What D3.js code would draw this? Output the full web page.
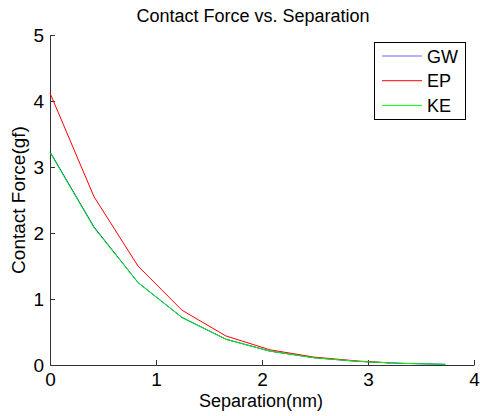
<!DOCTYPE html>
<html><head><meta charset="utf-8">
<script src="https://cdn.jsdelivr.net/npm/d3@7"></script>
<style>body{margin:0;background:#fff;} svg{display:block;font-family:"Liberation Sans",Arial,sans-serif;}</style>
</head><body>
<svg id="c" width="480" height="416"></svg>
<script>
const title = "Contact Force vs. Separation";
const xLabel = "Separation(nm)";
const yLabel = "Contact Force(gf)";
const xTicks = [0, 1, 2, 3, 4];
const yTicks = [0, 1, 2, 3, 4, 5];
const seriesNames = ["GW", "EP", "KE"];
const seriesColors = ["#0000ff", "#ff0000", "#00ff00"];
const gwX = [0, 0.415, 0.83, 1.245, 1.66, 2.075, 2.49, 2.905, 3.32, 3.73];
const gwY = [3.23, 2.09, 1.25, 0.72, 0.39, 0.21, 0.11, 0.055, 0.025, 0.01];
const epX = [0, 0.415, 0.83, 1.245, 1.66, 2.075, 2.49, 2.905, 3.21];
const epY = [4.12, 2.55, 1.50, 0.83, 0.44, 0.23, 0.12, 0.06, 0.03];
const keX = [0, 0.415, 0.83, 1.245, 1.66, 2.075, 2.49, 2.905, 3.32, 3.73];
const keY = [3.22, 2.08, 1.25, 0.72, 0.39, 0.21, 0.11, 0.055, 0.025, 0.01];

const svg = d3.select("#c");
const x = d3.scaleLinear().domain([0, 4]).range([50, 474]);
const y = d3.scaleLinear().domain([0, 5]).range([365, 35]);

// axes
const xa = svg.append("g").attr("transform", "translate(0,365)")
  .call(d3.axisBottom(x).tickValues(xTicks).tickFormat(d3.format("d")).tickSizeInner(-5).tickSizeOuter(0).tickPadding(8));
const ya = svg.append("g").attr("transform", "translate(50,0)")
  .call(d3.axisLeft(y).tickValues(yTicks).tickFormat(d3.format("d")).tickSizeInner(-5).tickSizeOuter(0).tickPadding(6));
[xa, ya].forEach(g => {
  g.select(".domain").attr("stroke", "#333");
  g.selectAll(".tick line").attr("stroke", "#333");
  g.selectAll(".tick text").attr("fill", "#000").attr("font-size", 19).attr("font-family", "Liberation Sans, Arial, sans-serif");
});

const data = [[gwX, gwY], [epX, epY], [keX, keY]];
const line = d3.line().x(d => x(d[0])).y(d => y(d[1]));
data.forEach((s, i) => {
  const pts = s[0].map((v, j) => [v, s[1][j]]);
  svg.append("path").datum(pts).attr("d", line).attr("fill", "none")
    .attr("stroke", seriesColors[i]).attr("stroke-width", 1);
});

svg.append("text").attr("x", 253).attr("y", 22).attr("text-anchor", "middle")
  .attr("font-size", 18).text(title);
svg.append("text").attr("x", 261).attr("y", 407).attr("text-anchor", "middle")
  .attr("font-size", 18).text(xLabel);
svg.append("text").attr("transform", "translate(25,200) rotate(-90)").attr("text-anchor", "middle")
  .attr("font-size", 19).text(yLabel);

// legend
const lg = svg.append("g");
lg.append("rect").attr("x", 374.5).attr("y", 42.5).attr("width", 91).attr("height", 77)
  .attr("fill", "#fff").attr("stroke", "#000");
seriesNames.forEach((n, i) => {
  const yy = 56 + i * 24.7;
  lg.append("line").attr("x1", 382).attr("x2", 422).attr("y1", yy).attr("y2", yy)
    .attr("stroke", seriesColors[i]).attr("stroke-opacity", i === 0 ? 0.6 : 1);
  lg.append("text").attr("x", 427).attr("y", yy + 6.5).attr("font-size", 18).text(n);
});
</script>
</body></html>
